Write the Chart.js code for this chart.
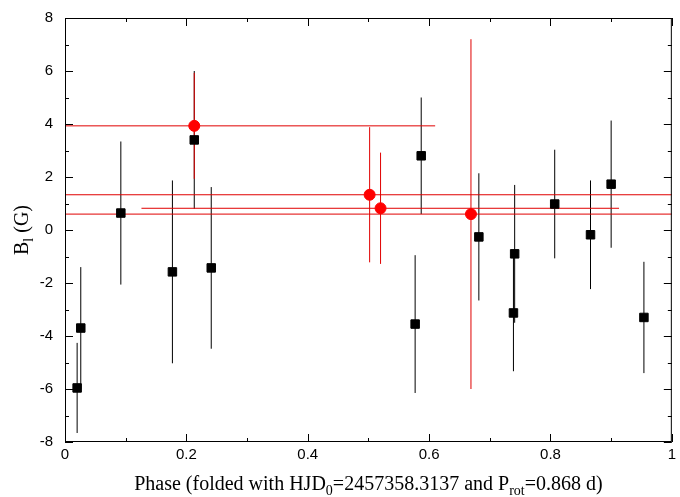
<!doctype html>
<html lang="en">
<head>
<meta charset="utf-8">
<title>Bl vs phase</title>
<script src="https://cdn.jsdelivr.net/npm/chart.js"></script>
<style>
  body { margin: 0; background: #fff; }
  #wrap { width: 680px; height: 497px; }
</style>
</head>
<body>
<div id="wrap"><canvas id="chart"></canvas></div>
<script>
// black squares: phase, Bl, error
const sqPhase = [0.020, 0.026, 0.092, 0.177, 0.213, 0.241, 0.577, 0.587, 0.682, 0.741, 0.739, 0.807, 0.866, 0.900, 0.954];
const sqBl    = [-5.96, -3.70, 0.64, -1.58, 3.40, -1.43, -3.55, 2.80, -0.26, -0.90, -3.13, 0.98, -0.18, 1.73, -3.30];
const sqErr   = [1.70, 2.30, 2.70, 3.45, 2.60, 3.05, 2.60, 2.20, 2.40, 2.60, 2.20, 2.05, 2.05, 2.40, 2.10];

// red circles: phase, Bl, vertical error, horizontal phase range
const rdPhase = [0.213, 0.502, 0.520, 0.669];
const rdBl    = [3.93, 1.33, 0.82, 0.60];
const rdErr   = [2.00, 2.55, 2.10, 6.60];
const rdLo    = [0.0, 0.0, 0.126, 0.0];
const rdHi    = [0.610, 1.0, 0.913, 1.0];

const xTicks = [0, 0.2, 0.4, 0.6, 0.8, 1];

const errorBars = {
  id: 'errorBars',
  beforeDatasetsDraw(chart) {
    const { ctx, scales: { x, y }, chartArea: a } = chart;
    ctx.save();
    ctx.beginPath();
    ctx.rect(a.left, a.top, a.width, a.height);
    ctx.clip();
    ctx.lineWidth = 1;
    ctx.strokeStyle = '#000';
    sqPhase.forEach((p, i) => {
      const px = x.getPixelForValue(p);
      ctx.beginPath();
      ctx.moveTo(px, y.getPixelForValue(sqBl[i] - sqErr[i]));
      ctx.lineTo(px, y.getPixelForValue(sqBl[i] + sqErr[i]));
      ctx.stroke();
    });
    ctx.strokeStyle = '#e00000';
    rdPhase.forEach((p, i) => {
      const px = x.getPixelForValue(p), py = y.getPixelForValue(rdBl[i]);
      ctx.beginPath();
      ctx.moveTo(px, y.getPixelForValue(rdBl[i] - rdErr[i]));
      ctx.lineTo(px, y.getPixelForValue(rdBl[i] + rdErr[i]));
      ctx.moveTo(x.getPixelForValue(rdLo[i]), py);
      ctx.lineTo(x.getPixelForValue(rdHi[i]), py);
      ctx.stroke();
    });
    ctx.restore();
  },
  afterDraw(chart) {
    const { ctx, chartArea: a, scales: { x, y } } = chart;
    ctx.save();
    ctx.strokeStyle = '#000';
    ctx.lineWidth = 1;
    ctx.strokeRect(a.left + 0.5, a.top + 0.5, a.width - 1, a.height - 1);
    // inward ticks, major and minor
    ctx.beginPath();
    for (let v = 0; v <= 1.0001; v += 0.1) {
      const px = Math.round(x.getPixelForValue(v)) + 0.5;
      const len = Math.abs((v * 10) % 2) < 0.01 || Math.abs((v * 10) % 2 - 2) < 0.01 ? 8 : 4;
      ctx.moveTo(px, a.bottom); ctx.lineTo(px, a.bottom - len);
      ctx.moveTo(px, a.top); ctx.lineTo(px, a.top + len);
    }
    for (let v = -8; v <= 8; v += 1) {
      const py = Math.round(y.getPixelForValue(v)) + 0.5;
      const len = v % 2 === 0 ? 8 : 4;
      ctx.moveTo(a.left, py); ctx.lineTo(a.left + len, py);
      ctx.moveTo(a.right, py); ctx.lineTo(a.right - len, py);
    }
    ctx.stroke();
    ctx.fillStyle = '#000';
    ctx.textBaseline = 'alphabetic';
    // x title with subscripts
    const parts = [['Phase (folded with HJD', 0], ['0', 1], ['=2457358.3137 and P', 0], ['rot', 1], ['=0.868 d)', 0]];
    const big = '20px "Liberation Serif"', small = '14px "Liberation Serif"';
    let w = 0;
    parts.forEach(([t, s]) => { ctx.font = s ? small : big; w += ctx.measureText(t).width; });
    let cx = (a.left + a.right) / 2 - w / 2;
    const by = 490;
    parts.forEach(([t, s]) => {
      ctx.font = s ? small : big;
      ctx.fillText(t, cx, s ? by + 5 : by);
      cx += ctx.measureText(t).width;
    });
    // y title
    ctx.translate(28, (a.top + a.bottom) / 2);
    ctx.rotate(-Math.PI / 2);
    const yp = [['B', 0], ['l', 1], [' (G)', 0]];
    w = 0;
    yp.forEach(([t, s]) => { ctx.font = s ? small : big; w += ctx.measureText(t).width; });
    cx = -w / 2;
    yp.forEach(([t, s]) => {
      ctx.font = s ? small : big;
      ctx.fillText(t, cx, s ? 5 : 0);
      cx += ctx.measureText(t).width;
    });
    ctx.restore();
  }
};

new Chart(document.getElementById('chart'), {
  type: 'scatter',
  data: {
    datasets: [
      {
        label: 'squares',
        data: sqPhase.map((p, i) => ({ x: p, y: sqBl[i] })),
        pointStyle: 'rect',
        pointRadius: 6,
        backgroundColor: '#000',
        borderColor: '#000'
      },
      {
        label: 'circles',
        data: rdPhase.map((p, i) => ({ x: p, y: rdBl[i] })),
        pointStyle: 'circle',
        pointRadius: 5.5,
        backgroundColor: '#ff0000',
        borderColor: '#ff0000'
      }
    ]
  },
  options: {
    responsive: true,
    maintainAspectRatio: false,
    animation: false,
    layout: { padding: { top: 18, right: 4, left: 0, bottom: 0 } },
    plugins: { legend: { display: false }, tooltip: { enabled: false } },
    scales: {
      x: {
        type: 'linear', min: 0, max: 1,
        afterBuildTicks: s => { s.ticks = xTicks.map(v => ({ value: v })); },
        afterFit: s => { s.height = 55; },
        grid: { display: false, drawTicks: false },
        border: { display: false },
        ticks: { color: '#000', font: { family: 'Liberation Sans', size: 15 }, padding: 4, callback: v => v }
      },
      y: {
        min: -8, max: 8,
        afterFit: s => { s.width = 65; },
        grid: { display: false },
        border: { display: false },
        ticks: { stepSize: 2, color: '#000', font: { family: 'Liberation Sans', size: 15 }, padding: 4 }
      }
    }
  },
  plugins: [errorBars]
});
</script>
</body>
</html>
